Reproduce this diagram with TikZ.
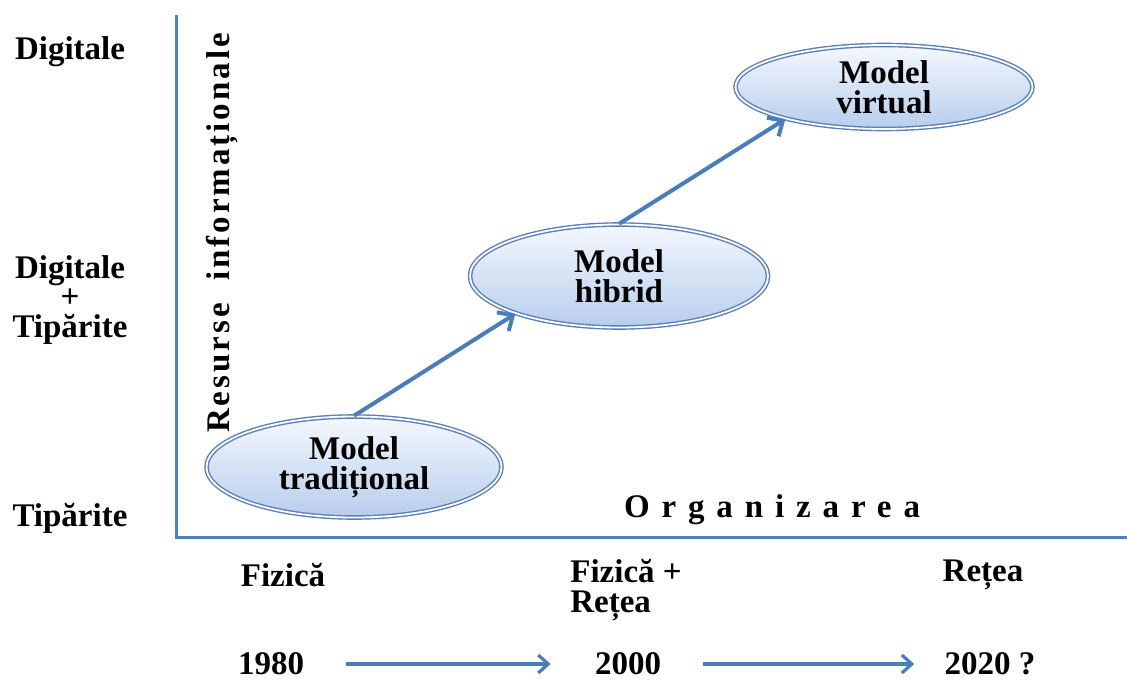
\documentclass[tikz,border=0pt]{standalone}
\usepackage{fontspec}
\setmainfont{Liberation Serif}
\usetikzlibrary{arrows.meta,positioning,shapes.geometric}
\definecolor{axisblue}{HTML}{4F81BD}
\definecolor{arrowblue}{HTML}{4A7EBB}
\definecolor{ellline}{HTML}{5B7FB8}
\definecolor{elltop}{HTML}{F4F8FE}
\definecolor{ellfill}{HTML}{B7CDEC}
\begin{document}
\begin{tikzpicture}[x=0.5pt,y=-0.5pt,
  modelell/.style={ellipse,draw=ellline,double=white,double distance=0.9pt,line width=0.7pt,
    top color=elltop,bottom color=ellfill,inner sep=0pt,align=center,
    font=\bfseries\fontsize{16.5}{14.8}\selectfont},
  lbl/.style={font=\bfseries\fontsize{16.5}{14.8}\selectfont,align=center,inner sep=0pt},
  flow/.style={arrowblue,line width=2pt,-{Straight Barb[length=6pt,width=11pt,line width=2pt]}},
  timeflow/.style={arrowblue,line width=1.6pt,-{Straight Barb[length=5pt,width=9pt,line width=1.6pt]}}]
  \useasboundingbox (0,0) rectangle (1127,680);
  % axes
  \coordinate (ytop) at (176,15);
  \coordinate (origin) at (176,537);
  \coordinate (xend) at (1127,537);
  \draw[axisblue,line width=1.5pt] (ytop) -- (origin) -- (xend);
  % models
  \node[modelell,minimum width=147.5pt,minimum height=50.5pt] (trad) at (354,467) {Model\\tradițional};
  \node[modelell,minimum width=149pt,minimum height=51.5pt] (hibrid) at (619,276) {Model\\hibrid};
  \node[modelell,minimum width=148.5pt,minimum height=42pt] (virtual) at (884,87) {Model\\virtual};
  \draw[flow] (trad.north) -- (hibrid.200);
  \draw[flow] (hibrid.north) -- (virtual.198);
  % vertical axis labels
  \node[lbl] (dig) at (70,52) {Digitale};
  \node[lbl] (mix) at (70,300) {Digitale\\+\\Tipărite};
  \node[lbl] (tip) at (70,518) {Tipărite};
  \node[lbl,rotate=90,font=\bfseries\fontsize{16.5}{18}\selectfont\addfontfeature{LetterSpace=9}] (resurse) at (222,233) {Resurse \ informaționale};
  % horizontal axis labels
  \node[lbl,font=\bfseries\fontsize{16.5}{18}\selectfont\addfontfeature{LetterSpace=36}] (org) at (772,510) {Organizarea};
  \node[lbl] (fiz) at (283,575) {Fizică};
  \node[lbl,align=left] (fizret) at (626,590) {Fizică +\\Rețea};
  \node[lbl] (ret) at (983,575) {Rețea};
  % timeline
  \node[lbl] (y1980) at (271,664) {1980};
  \node[lbl] (y2000) at (628,664) {2000};
  \node[lbl] (y2020) at (990,664) {2020 ?};
  \draw[timeflow,shorten <=21pt,shorten >=22pt] (y1980) -- (y2000);
  \draw[timeflow,shorten <=21pt,shorten >=15pt] (y2000) -- (y2020);
\end{tikzpicture}
\end{document}
